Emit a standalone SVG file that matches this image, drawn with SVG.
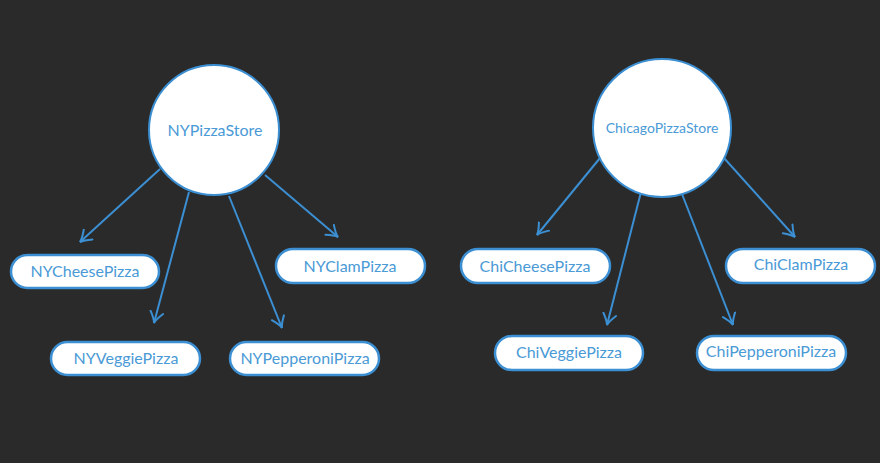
<svg xmlns="http://www.w3.org/2000/svg" width="880" height="463" viewBox="0 0 880 463">
<defs>
<marker id="arr" viewBox="-12 -8 14 16" refX="0" refY="0" markerWidth="14" markerHeight="16" markerUnits="userSpaceOnUse" orient="auto">
<path d="M-11,-6.5 Q-4,-1 0,0 Q-4,1 -11,6.5" fill="none" stroke="#3b8fd2" stroke-width="2" stroke-linecap="round"/>
</marker>
<style>
.store{fill:#ffffff;stroke:#3b8fd2;stroke-width:2}
.pill{fill:#ffffff;stroke:#3b8fd2;stroke-width:2.5}
.lbl{font-family:Lato,"Liberation Sans",sans-serif;fill:#4a9ad6;text-anchor:middle}
.conn line{stroke:#3b8fd2;stroke-width:2;fill:none;marker-end:url(#arr)}
</style>
</defs>
<rect width="880" height="463" fill="#2a2a2a"/>
<g id="connectors" class="conn">
<line x1="160" y1="169" x2="80" y2="242"/>
<line x1="189" y1="192" x2="154" y2="323"/>
<line x1="229" y1="196" x2="282" y2="328"/>
<line x1="265" y1="175" x2="338" y2="237"/>
<line x1="600" y1="158" x2="537" y2="235"/>
<line x1="641" y1="192" x2="607" y2="325"/>
<line x1="682" y1="194" x2="733" y2="325"/>
<line x1="724" y1="158" x2="795" y2="237"/>
</g>
<g id="NYPizzaStore">
<circle class="store" cx="214" cy="130" r="65"/>
<text class="lbl" x="215" y="136" font-size="16">NYPizzaStore</text>
</g>
<g id="ChicagoPizzaStore">
<circle class="store" cx="662" cy="128" r="69"/>
<text class="lbl" x="662" y="133" font-size="14">ChicagoPizzaStore</text>
</g>
<g id="NYCheesePizza">
<rect class="pill" x="11" y="255" width="148" height="33" rx="16.5"/>
<text class="lbl" x="85" y="277" font-size="16">NYCheesePizza</text>
</g>
<g id="NYClamPizza">
<rect class="pill" x="276" y="249" width="149" height="34" rx="17"/>
<text class="lbl" x="350" y="272" font-size="16">NYClamPizza</text>
</g>
<g id="NYVeggiePizza">
<rect class="pill" x="51" y="342" width="149" height="33" rx="16.5"/>
<text class="lbl" x="126" y="364" font-size="16">NYVeggiePizza</text>
</g>
<g id="NYPepperoniPizza">
<rect class="pill" x="230" y="342" width="149" height="33" rx="16.5"/>
<text class="lbl" x="305" y="364" font-size="16">NYPepperoniPizza</text>
</g>
<g id="ChiCheesePizza">
<rect class="pill" x="461" y="249" width="149" height="34" rx="17"/>
<text class="lbl" x="535" y="272" font-size="16">ChiCheesePizza</text>
</g>
<g id="ChiClamPizza">
<rect class="pill" x="726" y="249" width="149" height="34" rx="17"/>
<text class="lbl" x="801" y="270" font-size="16">ChiClamPizza</text>
</g>
<g id="ChiVeggiePizza">
<rect class="pill" x="495" y="336" width="148" height="34" rx="17"/>
<text class="lbl" x="569" y="358" font-size="16">ChiVeggiePizza</text>
</g>
<g id="ChiPepperoniPizza">
<rect class="pill" x="697" y="336" width="149" height="34" rx="17"/>
<text class="lbl" x="771" y="357" font-size="16">ChiPepperoniPizza</text>
</g>
</svg>
